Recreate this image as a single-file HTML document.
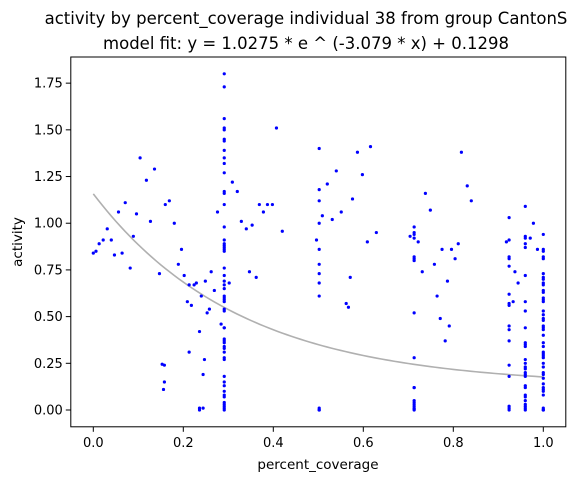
<!DOCTYPE html>
<html><head><meta charset="utf-8"><style>
body{margin:0;background:#fff}
svg text{font-family:"DejaVu Sans","Liberation Sans",sans-serif;fill:#000}
</style></head><body>
<svg id="chart" width="582" height="480" viewBox="0 0 582 480" xmlns="http://www.w3.org/2000/svg">
<text x="306" y="24" font-size="16.5" text-anchor="middle">activity by percent_coverage individual 38 from group CantonS</text>
<text x="306" y="49" font-size="16.5" text-anchor="middle">model fit: y = 1.0275 * e ^ (-3.079 * x) + 0.1298</text>
<g id="plot"></g>
<text x="318" y="469" font-size="13.5" text-anchor="middle">percent_coverage</text>
<text x="0" y="0" font-size="13.5" text-anchor="middle" transform="translate(22,242) rotate(-90)">activity</text>
</svg>
<script>
const xTicks=[0,0.2,0.4,0.6,0.8,1.0];
const xTickLabels=["0.0","0.2","0.4","0.6","0.8","1.0"];
const yTicks=[0,0.25,0.5,0.75,1.0,1.25,1.5,1.75];
const yTickLabels=["0.00","0.25","0.50","0.75","1.00","1.25","1.50","1.75"];
const fitA=1.0275, fitB=-3.079, fitC=0.1298;
const scatterX=[0,.006,.013,.022,.031,.04,.047,.064,.071,.056,.082,.089,.096,.104,.118,.127,.136,.147,.153,.158,.158,.156,.16,.169,.18,.189,.196,.202,.209,.213,.213,.218,.224,.229,.236,.236,.236,.24,.244,.244,.247,.249,.253,.258,.262,.269,.276,.284,.302,.309,.32,.329,.34,.347,.353,.362,.369,.378,.387,.398,.407,.42,
.496,.509,.52,.54,.531,.551,.576,.587,.598,.616,.609,.629,.571,.562,.567,
.704,.722,.731,.738,.749,.758,.764,.771,.775,.782,.787,.791,.796,.804,.811,.818,.831,.84,
.918,.937,.944,.933,.971,.978,.987];
const scatterY=[.84,.85,.89,.91,.97,.91,.83,.84,1.11,1.06,.76,.93,1.05,1.35,1.23,1.01,1.29,.73,.245,.24,.15,.11,1.10,1.12,1.0,.78,.86,.72,.58,.67,.31,.56,.67,.68,.42,.01,0,.61,.01,.19,.27,.69,.52,.54,.74,.64,1.06,.46,.68,1.22,1.17,1.01,.97,.74,.99,.71,1.10,1.06,1.10,1.10,1.51,.957,
.91,1.04,1.21,1.28,1.02,1.06,1.13,1.38,1.26,1.41,.90,.95,.71,.57,.55,
.93,.90,.74,1.16,1.07,.78,.61,.49,.86,.37,.69,.45,.86,.81,.89,1.38,1.20,1.12,
.90,.74,.68,.58,.92,1.00,.86];
const col029=[1.80,1.73,1.56,1.51,1.50,1.45,1.44,1.39,1.35,1.32,1.27,1.17,1.16,1.10,.98,.91,.89,.88,.87,.86,.85,.76,.72,.69,.67,.65,.61,.60,.59,.58,.54,.53,.44,.44,.38,.37,.36,.34,.33,.31,.28,.27,.18,.15,.13,.10,.08,.07,.04,.03,.02,.01,0];
const col050=[1.40,1.18,1.12,1.0,.86,.78,.73,.68,.61,.01,0,0];
const col071=[.98,.95,.94,.92,.82,.81,.80,.52,.28,.12,.12,.05,.04,.03,.02,.01,.005,0];
const col092=[1.03,.91,.82,.81,.77,.62,.56,.57,.45,.43,.37,.24,.18,.02,.01,0];
const col096=[1.09,.93,.92,.89,.87,.72,.58,.53,.44,.36,.35,.34,.27,.25,.23,.22,.20,.19,.18,.13,.12,.08,.07,.05,.03,.02,.01,0];
const col100=[.94,.86,.85,.82,.81,.73,.71,.70,.68,.67,.64,.63,.60,.59,.58,.53,.51,.49,.48,.45,.44,.43,.40,.36,.34,.31,.30,.29,.28,.25,.23,.20,.19,.17,.14,.12,.11,.10,.08,.01,0,0];
const columns=[[0.291,col029],[0.502,col050],[0.713,col071],[0.924,col092],[0.96,col096],[1.0,col100]];

const L=70.8,R=565.8,T=57,B=426.8;
const xMin=-0.05,xMax=1.05,yMin=-0.09,yMax=1.89;
const sx=v=>L+(v-xMin)/(xMax-xMin)*(R-L);
const sy=v=>B-(v-yMin)/(yMax-yMin)*(B-T);
const NS="http://www.w3.org/2000/svg";
const g=document.getElementById('plot');
function mk(t,a){const e=document.createElementNS(NS,t);for(const k in a)e.setAttribute(k,a[k]);g.appendChild(e);return e;}
let d="";
for(let i=0;i<=100;i++){const x=i/100;const y=fitA*Math.exp(fitB*x)+fitC;d+=(i?"L":"M")+sx(x).toFixed(2)+","+sy(y).toFixed(2);}
const curve=mk('path',{d:d,fill:'none',stroke:'#b0b0b0','stroke-width':1.6});


function pt(x,y){const c=mk('circle',{cx:sx(x).toFixed(2),cy:sy(y).toFixed(2),r:1.6,fill:'#0000ff'});

}
for(let i=0;i<scatterX.length;i++)pt(scatterX[i],scatterY[i]);
columns.forEach(([x,ys])=>ys.forEach(y=>pt(x,y)));
const frame=mk('rect',{x:L,y:T,width:R-L,height:B-T,fill:'none',stroke:'#000','stroke-width':1});


xTicks.forEach((v,i)=>{const x=sx(v);
const tk=mk('line',{x1:x,x2:x,y1:B,y2:B+5,stroke:'#000'});


const t=mk('text',{x:x,y:B+20,'font-size':13,'text-anchor':'middle'});t.textContent=xTickLabels[i];

});
yTicks.forEach((v,i)=>{const y=sy(v);
const tk=mk('line',{x1:L-5,x2:L,y1:y,y2:y,stroke:'#000'});


const t=mk('text',{x:L-8,y:y+4.5,'font-size':13,'text-anchor':'end'});t.textContent=yTickLabels[i];

});
</script>
</body></html>
